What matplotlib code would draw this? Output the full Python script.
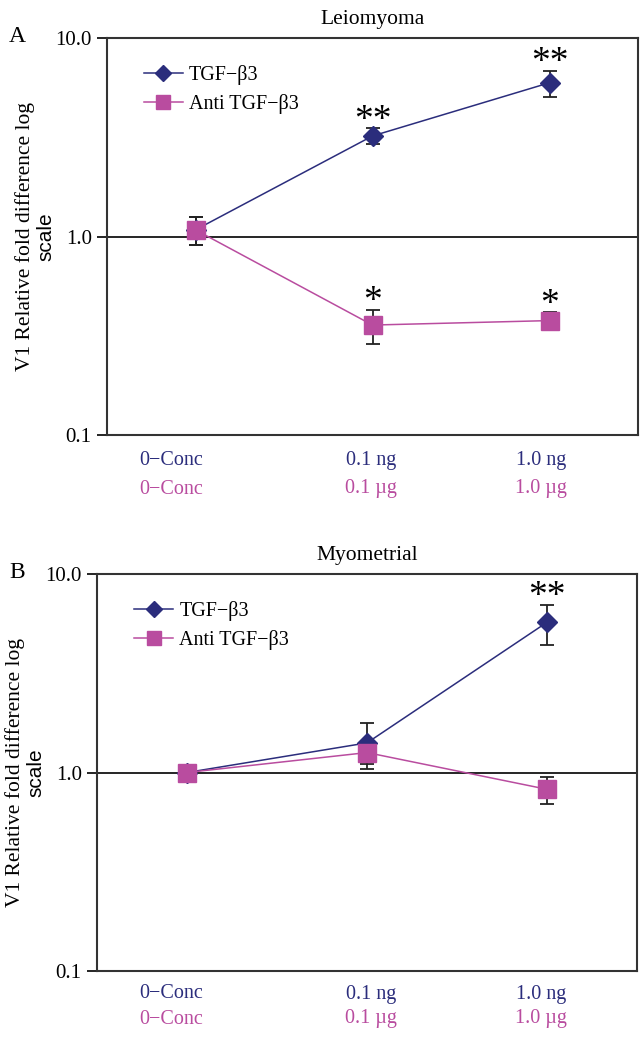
import matplotlib
matplotlib.use('Agg')
import matplotlib.pyplot as plt
from matplotlib.ticker import NullLocator

plt.rcParams['font.family'] = ['Liberation Serif', 'DejaVu Serif']

# Categories and labels
tgf_labels = ['0\u2212Conc', '0.1 ng', '1.0 ng']
anti_labels = ['0\u2212Conc', '0.1 \u00b5g', '1.0 \u00b5g']
series_names = ['TGF\u2212\u03b23', 'Anti TGF\u2212\u03b23']

# Panel A: Leiomyoma
tgf_a = [1.08, 3.21, 5.95]
tgf_a_err = [0.17, 0.30, 0.89]
anti_a = [1.08, 0.358, 0.377]
anti_a_err = [0.17, 0.07, 0.04]
tgf_a_stars = ['', '**', '**']
anti_a_stars = ['', '*', '*']

# Panel B: Myometrial
tgf_b = [1.0, 1.41, 5.71]
tgf_b_err = [0.04, 0.37, 1.3]
anti_b = [1.0, 1.26, 0.823]
anti_b_err = [0.04, 0.16, 0.13]
tgf_b_stars = ['', '', '**']
anti_b_stars = ['', '', '']

navy = '#2b2d7c'
magenta = '#b94c9f'
W, H = 643, 1050

fig = plt.figure(figsize=(W / 100, H / 100), dpi=100)


def panel(rect, letter, title, tgf, tgf_err, anti, anti_err, tgf_st, anti_st, rows):
    ax = fig.add_axes(rect)
    x = range(len(tgf))
    ax.set_yscale('log')
    ax.set_ylim(0.1, 10)
    ax.set_xlim(-0.5, 2.5)
    ax.axhline(1.0, color='black', lw=1.2, zorder=1)

    handles = []
    for vals, err, col, mk, ms, st in [(tgf, tgf_err, navy, 'D', 10.5, tgf_st),
                                       (anti, anti_err, magenta, 's', 13, anti_st)]:
        ax.errorbar(x, vals, yerr=err, fmt='none', ecolor='#222222',
                    elinewidth=1.3, capsize=5, capthick=1.3, zorder=2)
        ln, = ax.plot(x, vals, color=col, lw=1.1, marker=mk, markersize=ms,
                      markeredgecolor=col, zorder=3)
        handles.append(ln)
        for xi, v, e, s in zip(x, vals, err, st):
            if s:
                ax.annotate(s, (xi, v + e), xytext=(0, 5.5), textcoords='offset points',
                            ha='center', va='center', fontsize=27)

    ax.set_yticks([0.1, 1, 10])
    ax.set_yticklabels(['0.1', '1.0', '10.0'])
    ax.yaxis.set_minor_locator(NullLocator())
    ax.tick_params(axis='y', length=7, width=1.2, pad=4, labelsize=15)
    ax.set_xticks([])
    for sp in ax.spines.values():
        sp.set_color('#333333')
        sp.set_linewidth(1.5)

    # y label: first line serif, second line sans
    pos = ax.get_position()
    x1 = -82 / (pos.width * W)
    x2 = -61 / (pos.width * W)
    ax.text(x1, 0.5, 'V1 Relative fold difference log', transform=ax.transAxes,
            rotation=90, ha='center', va='center', fontsize=15.5)
    ax.text(x2, 0.5, 'scale', transform=ax.transAxes, rotation=90,
            ha='center', va='center', fontsize=15,
            family=['Liberation Sans', 'DejaVu Sans'])
    ax.set_title(title, fontsize=15.5, pad=10)

    ax.legend(handles, series_names, loc='upper left', bbox_to_anchor=(0.05, 0.957),
              frameon=False, fontsize=14.5, handlelength=1.95,
              handletextpad=0.3, labelspacing=0.42, borderpad=0,
              markerscale=0.75)

    fig.text(17 / W, pos.y1 + 2 / H, letter, fontsize=17, ha='center', va='center')

    # category labels below axis, two rows
    for cx, lt, la in zip([171, 371, 541], tgf_labels, anti_labels):
        fig.text(cx / W, pos.y0 - rows[0] / H, lt, color=navy, fontsize=14.5,
                 ha='center', va='center')
        fig.text(cx / W, pos.y0 - rows[1] / H, la, color=magenta, fontsize=14.5,
                 ha='center', va='center')
    return ax


panel([107 / W, 1 - 435 / H, 531 / W, 397 / H], 'A', 'Leiomyoma',
      tgf_a, tgf_a_err, anti_a, anti_a_err, tgf_a_stars, anti_a_stars, (25, 54))
panel([97 / W, 1 - 971 / H, 540 / W, 397 / H], 'B', 'Myometrial',
      tgf_b, tgf_b_err, anti_b, anti_b_err, tgf_b_stars, anti_b_stars, (23, 48))

fig.savefig('out.png', dpi=100)
